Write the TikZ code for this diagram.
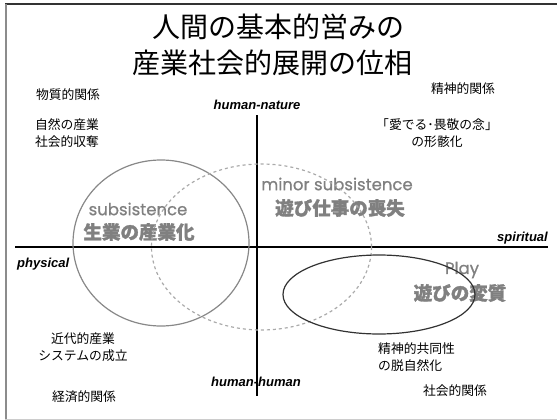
\documentclass[tikz,border=0pt]{standalone}
\usepackage{fontspec}
\setmainfont{Liberation Sans}
\newfontfamily\cjk{Noto Sans CJK JP}
\newfontfamily\cjkheavy[BoldFeatures={FakeBold=1.6}]{Noto Sans CJK JP}
\newfontfamily\comic[FakeBold=0.7]{Poppins}
\definecolor{tgray}{RGB}{128,128,128}
\definecolor{cgray}{RGB}{136,136,136}
\definecolor{dgray}{RGB}{170,170,170}
\definecolor{pdark}{RGB}{50,50,50}
\tikzset{
  titletext/.style={font=\cjk\fontsize{28}{30}\selectfont, inner sep=0pt},
  lbl/.style={font=\cjk\fontsize{12.8}{17}\selectfont, align=center, inner sep=0pt},
  axislbl/.style={font=\fontsize{13}{15}\selectfont\bfseries\itshape, inner sep=0pt},
  engbig/.style={font=\comic\fontsize{16.5}{18}\selectfont, text=tgray, inner sep=0pt},
  jpbig/.style={font=\cjkheavy\bfseries\fontsize{18.5}{20}\selectfont, text=tgray, inner sep=0pt},
  axisline/.style={line width=1.2pt, draw=black},
}
\begin{document}
\begin{tikzpicture}[x=1pt,y=-1pt]
\useasboundingbox (0,0) rectangle (557,420);
% frame
\draw[line width=1.2pt, draw=black!80] (5,4) -- (557,4);
\draw[line width=2pt, draw=black!45] (6,4) -- (6,419);
\draw[line width=1pt, draw=black!20] (5,419) -- (557,419);

% titles
\node[titletext] (t1) at (278,27) {人間の基本的営みの};
\node[titletext] (t2) at (272,63) {産業社会的展開の位相};

% axes
\coordinate (vt) at (257,115);
\coordinate (vb) at (257,396);
\coordinate (hl) at (15,247);
\coordinate (hr) at (548,247);
\draw[axisline] (vt) -- (vb);
\draw[axisline] (hl) -- (hr);

\node[axislbl] (hn) at (257,105) {human-nature};
\node[axislbl] (hh) at (256,382) {human-human};
\node[axislbl, anchor=east] (sp) at (548,238) {spiritual};
\node[axislbl, anchor=west] (ph) at (17,264) {physical};

% corner labels
\node[lbl] (m1) at (68,95) {物質的関係};
\node[lbl] (s1) at (463,89) {精神的関係};
\node[lbl] (m2) at (67,133) {自然の産業\\社会的収奪};
\node[lbl] (s2) at (437,133) {「愛でる･畏敬の念」\\の形骸化};
\node[lbl] (m3) at (83,347) {近代的産業\\システムの成立};
\node[lbl, align=left, anchor=west] (s3) at (378,357) {精神的共同性\\の脱自然化};
\node[lbl] (m4) at (84,397) {経済的関係};
\node[lbl] (s4) at (455,391) {社会的関係};

% texts in circles
\node[engbig] (sub) at (138,209) {subsistence};
\node[jpbig] (subj) at (139,232) {生業の産業化};
\node[engbig] (minor) at (337,184) {minor subsistence};
\node[jpbig] (minorj) at (340,208) {遊び仕事の喪失};
\node[engbig] (play) at (462,270) {Play};
\node[jpbig] (playj) at (460,293) {遊びの変質};

% ellipses
\draw[line width=1.2pt, draw=cgray] (161,243) ellipse [x radius=88, y radius=83];
\draw[line width=1.2pt, draw=dgray, dash pattern=on 3pt off 3pt] (261.5,247) ellipse [x radius=110, y radius=83];
\draw[line width=1.2pt, draw=pdark] (379,294.5) ellipse [x radius=96, y radius=39.5];
\end{tikzpicture}
\end{document}
